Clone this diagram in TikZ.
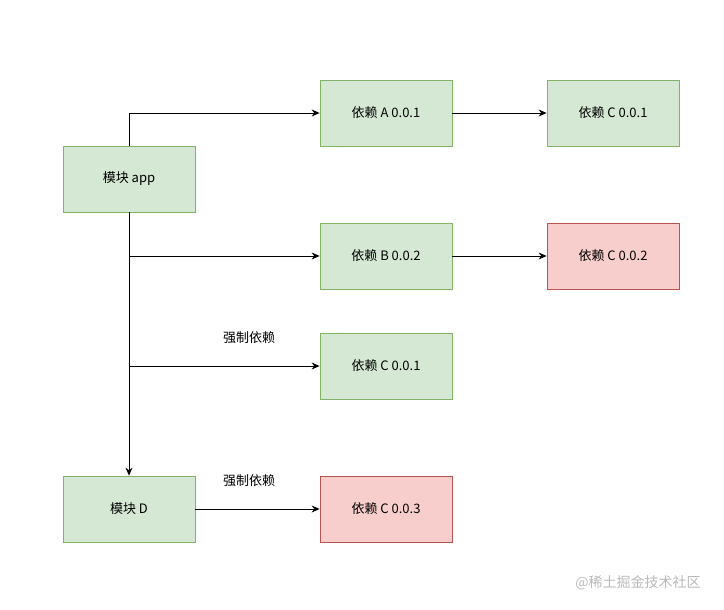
\documentclass[tikz,border=0pt]{standalone}
\usepackage{fontspec}
\setmainfont{Noto Sans CJK SC}
\usetikzlibrary{arrows.meta}
\definecolor{okfill}{HTML}{D5E8D4}
\definecolor{okline}{HTML}{82B366}
\definecolor{badfill}{HTML}{F8CECC}
\definecolor{badline}{HTML}{B85450}

\begin{document}
\begin{tikzpicture}[x=1pt, y=-1pt,
    okbox/.style={draw=okline, fill=okfill, line width=0.8pt, minimum width=132pt, minimum height=66pt, font=\fontsize{13}{15}\selectfont},
    badbox/.style={okbox, draw=badline, fill=badfill},
    dep/.style={-{Stealth[length=8pt, width=7pt]}, line width=0.9pt}]
            \useasboundingbox (0,0) rectangle (724,610);
            % modules
            \node[okbox] (app) at (129,179) {模块 app};
            \node[okbox] (modD) at (129,509) {模块 D};
            % deps
            \node[okbox] (depA) at (386,113) {依赖 A 0.0.1};
            \node[okbox] (depCa) at (613,113) {依赖 C 0.0.1};
            \node[okbox] (depB) at (386,256) {依赖 B 0.0.2};
            \node[badbox] (depCb) at (613,256) {依赖 C 0.0.2};
            \node[okbox] (depCc) at (386,366) {依赖 C 0.0.1};
            \node[badbox] (depCd) at (386,509) {依赖 C 0.0.3};
            % branch points
            \coordinate (jB) at (129,256);
            \coordinate (jC) at (129,366);
            % arrows
            \draw[dep] (app.north) |- (depA.west);
            \draw[dep] (depA) -- (depCa);
            \draw[dep] (app.south) -- (modD.north);
            \draw[dep] (jB) -- (depB.west);
            \draw[dep] (depB) -- (depCb);
            \draw[dep] (jC) -- (depCc.west);
            \draw[dep] (modD) -- (depCd);
            % labels
            \node[font=\fontsize{13}{15}\selectfont] (forceA) at (249,338) {强制依赖};
            \node[font=\fontsize{13}{15}\selectfont] (forceB) at (249,481) {强制依赖};
            \node[font=\fontsize{14}{16}\selectfont, text=gray!55] (mark) at (638,583) {@稀土掘金技术社区};
        \end{tikzpicture}
\end{document}
